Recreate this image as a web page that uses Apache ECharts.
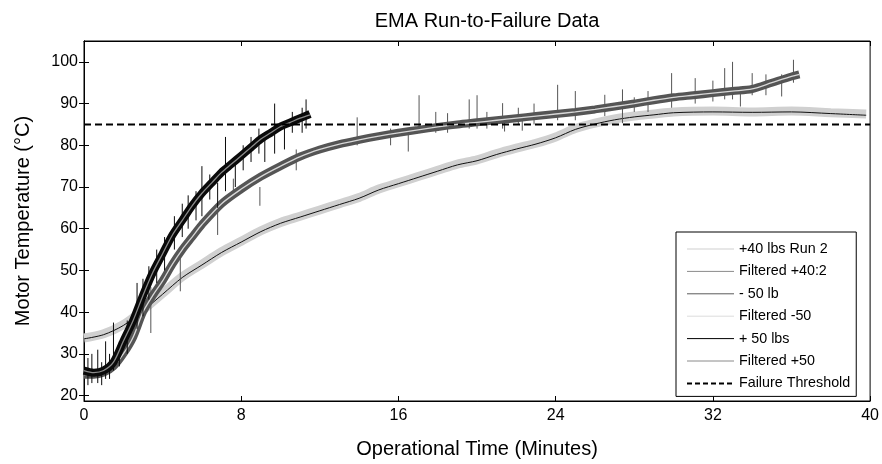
<!DOCTYPE html>
<html>
<head>
<meta charset="utf-8">
<script src="https://cdn.jsdelivr.net/npm/echarts@6/dist/echarts.min.js"></script>
<style>html,body{margin:0;padding:0;background:#fff}#c{width:882px;height:464px}</style>
</head>
<body>
<div id="c"></div>
<script>
// ---- data ----
var yTicks = [20, 30, 40, 50, 60, 70, 80, 90, 100];
var xTicks = [0, 8, 16, 24, 32, 40];

var tRun40 = [0,1,2,3,4,5,6,7,8,9,10,11,12,13,14,15,16,17,18,19,20,21,22,23,24,25,26,27,28,29,30,32,34,36,38,39.8];
var run40 = [33.8,34.8,37,40.5,44.5,48.5,51.5,54.5,57,59.5,61.5,63,64.5,66,67.5,69.5,71,72.5,74,75.5,76.5,78,79.3,80.5,82,84,85.3,86.3,87,87.5,88,88.2,88,88.2,87.8,87.5];
var filt40 = [33.6,34.6,36.8,40.3,44.3,48.3,51.3,54.3,56.8,59.3,61.3,62.8,64.3,65.8,67.3,69.3,70.8,72.3,73.8,75.3,76.3,77.8,79.1,80.3,81.8,83.8,85.1,86.1,86.8,87.3,87.8,88,87.9,88,87.6,87.2];

var tMinus50 = [0,0.5,1,1.5,2,2.5,3,3.5,4,4.5,5,5.5,6,7,8,9,10,11,12,13,14,15,16,17,18,19,20,21,22,23,24,25,26,27,28,29,30,31,32,33,34,35,36,36.4];
var minus50 = [25,25,25.5,27,30,34,40,44,47.5,51.5,55,58,61,66,69.5,72.5,75,77.3,79,80.3,81.3,82.2,83,83.7,84.4,85,85.5,86,86.5,87,87.5,88,88.6,89.3,90,90.8,91.5,92,92.5,93,93.5,95,96.5,97];
var filtMinus50 = [25,25,25.5,27,30,34,40,44,47.5,51.5,55,58,61,66,69.5,72.5,75,77.3,79,80.3,81.3,82.2,83,83.7,84.4,85,85.5,86,86.5,87,87.5,88,88.6,89.3,90,90.8,91.5,92,92.5,93,93.5,95,96.5,97];

var tPlus50 = [0,0.5,1,1.5,2,2.5,3,3.5,4,4.5,5,5.5,6,6.5,7,7.5,8,8.5,9,9.5,10,10.5,11,11.5];
var plus50 = [26,25.5,26,28,33,38,44,49.5,54,58.5,62,65.5,68.5,71,73.5,75.5,77.5,79.5,81.5,83,84.5,85.5,86.5,87.5];
var filtPlus50 = [26,25.5,26,28,33,38,44,49.5,54,58.5,62,65.5,68.5,71,73.5,75.5,77.5,79.5,81.5,83,84.5,85.5,86.5,87.3];

var threshold = [[0, 85], [40, 85]];

// noise spikes: [time, low, high]
var spikesPlus50 = [[0.2,22.5,29],[0.4,23,30],[0.7,23,31],[0.9,22.5,28],[1.1,24,33],[1.3,24,30],[1.5,26,37.5],[1.8,27,33],[2.2,30,38],[2.7,36,47],[3.0,39,48],[3.3,43,51],[3.7,47,55],[4.1,50,58],[4.6,55,63],[5.0,58,66],[5.3,60,68],[5.7,62,69],[6.0,63,75],[6.4,67,73],[6.8,65,71],[7.2,69,82],[7.7,70,76],[8.1,74,80],[8.5,76,82],[8.9,78,84],[9.2,76,83],[9.7,78,90],[10.2,79,85],[10.6,83,88],[11.1,83,89],[11.3,84,91]];
var spikesMinus50 = [[3.4,35,46],[4.9,45,55],[6.8,58.5,64],[7.6,68,72],[8.95,65.5,70],[10.8,74,79],[13.9,80,86.7],[15.6,80,84],[16.5,78.5,84],[17.05,83,92],[17.9,83,88],[18.5,83,87.7],[19.6,84,91],[20.0,84,92],[20.5,84,88],[21.3,84,90.1],[21.4,83.3,86],[22.1,85,89],[22.3,83.5,87],[22.9,85,90],[24.1,86,94.5],[25.0,86,93],[26.5,87,92.1],[27.4,85.3,93.4],[28.0,88,91.5],[28.7,88,93],[29.9,89,97.3],[31.1,90,96.1],[32.0,90.5,95.5],[32.6,91,98.5],[33.0,91,100],[33.4,89.3,94],[34.0,92,97.3],[34.7,92,97],[35.5,91.7,97],[36.1,95,100.5]];

// ---- build ----
function pairs(t, v) { return t.map(function (x, i) { return [x, v[i]]; }); }
function segs(s) {
  var out = [];
  s.forEach(function (p) { out.push([p[0], p[1]]); out.push([p[0], p[2]]); out.push([p[0], '-']); });
  return out;
}
var FONT = '"Liberation Sans", Arial, Helvetica, sans-serif';
var chart = echarts.init(document.getElementById('c'), null, { renderer: 'canvas' });

function lineSeries(name, data, color, width, z, extra) {
  var s = {
    name: name, type: 'line', data: data, symbol: 'none', showSymbol: false,
    smooth: 0.3, lineStyle: { color: color, width: width }, itemStyle: { color: color },
    z: z, animation: false, emphasis: { disabled: true }, silent: true
  };
  if (extra) for (var k in extra) s[k] = extra[k];
  return s;
}

var option = {
  animation: false,
  backgroundColor: '#fff',
  title: {
    text: 'EMA Run-to-Failure Data', left: 482, top: 6, textAlign: 'center',
    textStyle: { fontFamily: FONT, fontSize: 20, fontWeight: 'normal', color: '#000' }
  },
  grid: { left: 84, right: 10, top: 41, bottom: 59, show: true, borderColor: '#000', borderWidth: 1, backgroundColor: 'transparent' },
  legend: {
    orient: 'vertical', left: 676, top: 232,
    padding: [10, 6, 6, 10], itemGap: 8.4, itemWidth: 47, itemHeight: 14,
    backgroundColor: '#fff', borderColor: '#000', borderWidth: 1,
    textStyle: { fontFamily: FONT, fontSize: 14.3, color: '#000' },
    itemStyle: { opacity: 0, borderWidth: 0 },
    lineStyle: { width: 1 },
    data: [
      { name: '+40 lbs Run 2', lineStyle: { color: '#cfcfcf', width: 1 } },
      { name: 'Filtered +40:2', lineStyle: { color: '#8a8a8a', width: 1 } },
      { name: '- 50 lb', lineStyle: { color: '#5a5a5a', width: 1 } },
      { name: 'Filtered -50', lineStyle: { color: '#dcdcdc', width: 1 } },
      { name: '+ 50 lbs', lineStyle: { color: '#000', width: 1 } },
      { name: 'Filtered +50', lineStyle: { color: '#8a8a8a', width: 1 } },
      { name: 'Failure Threshold', lineStyle: { color: '#000', width: 2, type: [5, 3] } }
    ]
  },
  xAxis: [{
    type: 'value', min: 0, max: 40, interval: 8,
    name: 'Operational Time (Minutes)', nameLocation: 'middle', nameGap: 38,
    nameTextStyle: { fontFamily: FONT, fontSize: 20, color: '#000' },
    axisLine: { show: true, lineStyle: { color: '#000', width: 1 } },
    axisTick: { show: true, inside: true, length: 5, lineStyle: { color: '#000' } },
    axisLabel: { fontFamily: FONT, fontSize: 16, color: '#000', margin: 7 },
    splitLine: { show: false }
  }, {
    type: 'value', min: 0, max: 40, interval: 8, position: 'top',
    axisLine: { show: true, lineStyle: { color: '#000', width: 1 } },
    axisTick: { show: true, inside: true, length: 5, lineStyle: { color: '#000' } },
    axisLabel: { show: false }, splitLine: { show: false }
  }],
  yAxis: [{
    type: 'value', min: 18.7, max: 105,
    name: 'Motor Temperature (°C)', nameLocation: 'middle', nameGap: 51,
    nameTextStyle: { fontFamily: FONT, fontSize: 20, color: '#000' },
    axisLine: { show: true, lineStyle: { color: '#000', width: 1 } },
    axisTick: { show: true, inside: true, length: 5, customValues: yTicks, lineStyle: { color: '#000' } },
    axisLabel: { fontFamily: FONT, fontSize: 16, color: '#000', margin: 6, customValues: yTicks },
    splitLine: { show: false }
  }, {
    type: 'value', min: 18.7, max: 105, position: 'right',
    axisLine: { show: true, lineStyle: { color: '#000', width: 1 } },
    axisTick: { show: true, inside: true, length: 5, customValues: yTicks, lineStyle: { color: '#000' } },
    axisLabel: { show: false, customValues: yTicks }, splitLine: { show: false }
  }],
  series: [
    lineSeries('+40 lbs Run 2', pairs(tRun40, run40), '#d0d0d0', 9, 1),
    lineSeries('Filtered +40:2', pairs(tRun40, filt40), '#111', 1, 2),
    lineSeries('- 50 lb', pairs(tMinus50, minus50), '#555', 8, 3),
    lineSeries('- 50 lb spikes', segs(spikesMinus50), '#555', 1, 3, { smooth: false, connectNulls: false }),
    lineSeries('Filtered -50', pairs(tMinus50, filtMinus50), '#d8d8d8', 1.3, 4),
    lineSeries('+ 50 lbs', pairs(tPlus50, plus50), '#0a0a0a', 8, 5),
    lineSeries('+ 50 lbs spikes', segs(spikesPlus50), '#0a0a0a', 1, 5, { smooth: false, connectNulls: false }),
    lineSeries('Filtered +50', pairs(tPlus50, filtPlus50), '#8c8c8c', 1.3, 6),
    lineSeries('Failure Threshold', threshold, '#000', 2, 7, { smooth: false, lineStyle: { color: '#000', width: 2, type: [7, 4] } })
  ]
};
chart.setOption(option);
</script>
</body>
</html>
